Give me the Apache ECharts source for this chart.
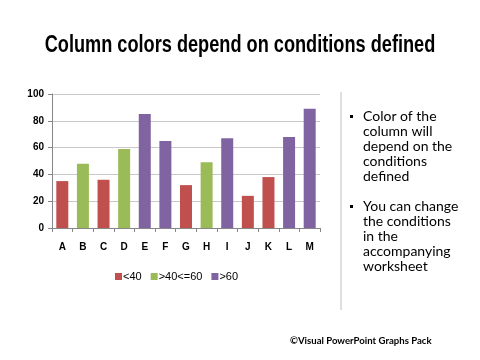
<!DOCTYPE html>
<html><head><meta charset="utf-8">
<script src="https://cdn.jsdelivr.net/npm/echarts@6/dist/echarts.min.js"></script>
<style>html,body{margin:0;padding:0;background:#fff}#c{width:480px;height:360px}</style>
</head><body><div id="c"></div>
<script>
var categories = ['A','B','C','D','E','F','G','H','I','J','K','L','M'];
var values = [35,48,36,59,85,65,32,49,67,24,38,68,89];
var seriesNames = ['<40','>40<=60','>60'];
var yTicks = [0,20,40,60,80,100];
var colors = ['#C0504D','#9BBB59','#8064A2'];

function band(v){ return v < 40 ? 0 : (v <= 60 ? 1 : 2); }
var seriesData = seriesNames.map(function(_, i){
  return values.map(function(v){ return band(v) === i ? v : null; });
});

var chart = echarts.init(document.getElementById('c'));
chart.setOption({
  animation: false,
  legend: {
    data: seriesNames, left: 110, top: 266, itemWidth: 7, itemHeight: 7, itemGap: 9,
    icon: 'rect',
    textStyle: {fontFamily: 'Liberation Sans', fontSize: 11, color: '#000', padding: [0,0,0,-4]}
  },
  grid: {left: 52, right: 160, top: 94, bottom: 132},
  xAxis: {
    type: 'category', data: categories,
    axisLine: {lineStyle: {color: '#868686'}},
    axisTick: {show: true, lineStyle: {color: '#868686'}, length: 4},
    axisLabel: {fontFamily: 'Liberation Sans', fontWeight: 'bold', fontSize: 10, color: '#000', margin: 14}
  },
  yAxis: {
    type: 'value', min: yTicks[0], max: yTicks[yTicks.length-1], interval: 20,
    axisLine: {show: true, lineStyle: {color: '#868686'}},
    axisTick: {show: true, lineStyle: {color: '#868686'}, length: 4},
    splitLine: {lineStyle: {color: '#c8c8c8'}},
    axisLabel: {fontFamily: 'Liberation Sans', fontWeight: 'bold', fontSize: 10, color: '#000', margin: 8}
  },
  series: seriesNames.map(function(n, i){
    return {name: n, type: 'bar', stack: 'all', data: seriesData[i], barWidth: 12,
      itemStyle: {color: colors[i]}};
  }),
  graphic: [
    {type: 'text', x: 240, y: 46, scaleX: 0.79, style: {
      text: 'Column colors depend on conditions defined',
      font: 'bold 23px "Liberation Sans"', fill: '#000', align: 'center', verticalAlign: 'middle'}},
    {type: 'line', shape: {x1: 341, y1: 92, x2: 341, y2: 310}, style: {stroke: '#bfbfbf', lineWidth: 1}},
    {type: 'rect', shape: {x: 350, y: 115, width: 3, height: 3}, style: {fill: '#000'}},
    {type: 'rect', shape: {x: 350, y: 205, width: 3, height: 3}, style: {fill: '#000'}},
    {type: 'text', left: 363, top: 109, style: {
      text: 'Color of the\ncolumn will\ndepend on the\nconditions\ndefined',
      font: '14px Lato', lineHeight: 15, fill: '#000'}},
    {type: 'text', left: 363, top: 199, style: {
      text: 'You can change\nthe conditions\nin the\naccompanying\nworksheet',
      font: '14px Lato', lineHeight: 15, fill: '#000'}},
    {type: 'text', left: 290, top: 336, style: {
      text: '\u00A9Visual PowerPoint Graphs Pack',
      font: 'bold 9.6px Lato', fill: '#000'}}
  ]
});
</script></body></html>
